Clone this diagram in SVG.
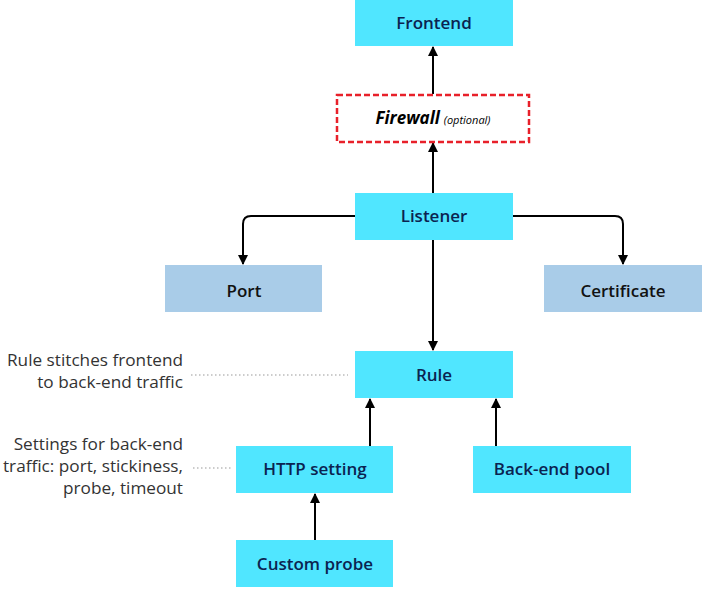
<svg xmlns="http://www.w3.org/2000/svg" width="702" height="589" viewBox="0 0 702 589">
<defs>
<marker id="ah" viewBox="0 0 10 10" refX="9" refY="5" markerWidth="10" markerHeight="10" markerUnits="userSpaceOnUse" orient="auto">
<path d="M0,0 L10,5 L0,10 z" fill="#000"/>
</marker>
</defs>
<style>
.c{fill:#50E6FF}
.b{fill:#A9CCE8}
.t{font-family:"Open Sans","Noto Sans",sans-serif;font-size:17px;font-weight:600;fill:#0B2350;text-anchor:middle}
.tb{font-family:"Open Sans","Noto Sans",sans-serif;font-size:17px;font-weight:600;fill:#111;text-anchor:middle}
.a{font-family:"Open Sans","Noto Sans",sans-serif;font-size:17.2px;fill:#333;text-anchor:end}
.ln{stroke:#000;stroke-width:2;fill:none;marker-end:url(#ah)}
.dot{stroke:#999;stroke-width:1.2;stroke-dasharray:1.5 2.5;fill:none}
</style>
<g id="connectors">
<line class="ln" x1="433" y1="94" x2="433" y2="47"/>
<line class="ln" x1="433" y1="193" x2="433" y2="143"/>
<path class="ln" d="M355,216 H251 Q243,216 243,224 V264"/>
<path class="ln" d="M513,216 H615 Q623,216 623,224 V264"/>
<line class="ln" x1="433" y1="240" x2="433" y2="350"/>
<line class="ln" x1="370" y1="446" x2="370" y2="399"/>
<line class="ln" x1="496" y1="446" x2="496" y2="399"/>
<line class="ln" x1="315" y1="540" x2="315" y2="494"/>
<line class="dot" x1="191" y1="375" x2="348" y2="375"/>
<line class="dot" x1="193" y1="468" x2="232" y2="468"/>
</g>
<g id="frontend"><rect class="c" x="355" y="0" width="158" height="46"/><text class="t" x="434" y="29">Frontend</text></g>
<g id="firewall"><rect x="337" y="95" width="192" height="47" fill="#fff" stroke="#E8202A" stroke-width="2.5" stroke-dasharray="6 3"/><text x="433" y="124" font-family="'Open Sans','Noto Sans',sans-serif" text-anchor="middle" fill="#000"><tspan font-size="17" font-weight="700" font-style="italic">Firewall</tspan><tspan font-size="11" font-style="italic" dx="4">(optional)</tspan></text></g>
<g id="listener"><rect class="c" x="355" y="193" width="158" height="47"/><text class="t" x="434" y="222">Listener</text></g>
<g id="port"><rect class="b" x="165" y="265" width="157" height="47"/><text class="tb" x="244" y="297">Port</text></g>
<g id="certificate"><rect class="b" x="544" y="265" width="158" height="47"/><text class="tb" x="623" y="297">Certificate</text></g>
<g id="rule"><rect class="c" x="355" y="351" width="158" height="47"/><text class="t" x="434" y="381">Rule</text></g>
<g id="http"><rect class="c" x="236" y="446" width="157" height="47"/><text class="t" x="315" y="475">HTTP setting</text></g>
<g id="backend"><rect class="c" x="473" y="446" width="158" height="47"/><text class="t" x="552" y="475">Back-end pool</text></g>
<g id="probe"><rect class="c" x="236" y="540" width="157" height="47"/><text class="t" x="315" y="570">Custom probe</text></g>
<g id="notes">
<text class="a" x="183" y="366">Rule stitches frontend</text>
<text class="a" x="183" y="388">to back-end traffic</text>
<text class="a" x="183" y="450">Settings for back-end</text>
<text class="a" x="183" y="472">traffic: port, stickiness,</text>
<text class="a" x="183" y="494">probe, timeout</text>
</g>
</svg>
